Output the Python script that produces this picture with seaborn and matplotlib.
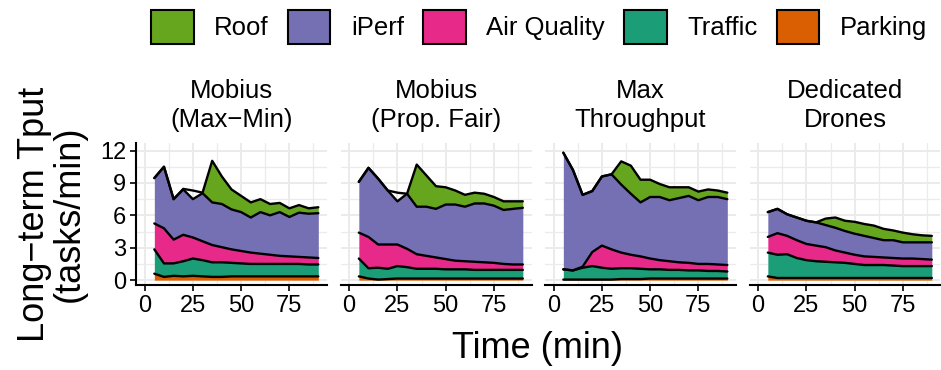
import numpy as np
import matplotlib.pyplot as plt
from matplotlib.patches import Patch
import seaborn as sns

time_min = [5, 10, 15, 20, 25, 30, 35, 40, 45, 50, 55, 60, 65, 70, 75, 80, 85, 90]
panel_titles = ["Mobius\n(Max−Min)", "Mobius\n(Prop. Fair)", "Max\nThroughput", "Dedicated\nDrones"]
stack_order = ["Parking", "Traffic", "Air Quality", "iPerf", "Roof"]
legend_order = ["Roof", "iPerf", "Air Quality", "Traffic", "Parking"]
roof_fill_from = 30

# tasks/min per app, one list per panel
parking = [
    [0.6, 0.3, 0.4, 0.35, 0.4, 0.35, 0.3, 0.3, 0.35, 0.35, 0.35, 0.35, 0.35, 0.35, 0.35, 0.35, 0.35, 0.35],
    [0.35, 0.15, 0.05, 0.1, 0.15, 0.15, 0.15, 0.15, 0.15, 0.15, 0.15, 0.15, 0.15, 0.15, 0.15, 0.15, 0.15, 0.15],
    [0.05, 0.05, 0.05, 0.05, 0.05, 0.05, 0.1, 0.1, 0.1, 0.15, 0.15, 0.15, 0.15, 0.15, 0.15, 0.15, 0.15, 0.15],
    [0.35, 0.2, 0.2, 0.2, 0.2, 0.2, 0.2, 0.2, 0.2, 0.2, 0.2, 0.2, 0.2, 0.2, 0.2, 0.2, 0.2, 0.2],
]
traffic = [
    [2.25, 1.25, 1.15, 1.4, 1.6, 1.5, 1.35, 1.35, 1.25, 1.2, 1.15, 1.15, 1.15, 1.15, 1.15, 1.15, 1.1, 1.1],
    [1.65, 0.95, 1.1, 0.95, 1.15, 1.05, 0.9, 0.9, 0.9, 0.85, 0.85, 0.85, 0.8, 0.8, 0.8, 0.8, 0.8, 0.8],
    [0.95, 0.85, 1.1, 1.25, 1.1, 1.0, 1.0, 1.0, 0.95, 0.85, 0.85, 0.8, 0.8, 0.75, 0.75, 0.7, 0.7, 0.65],
    [2.2, 2.15, 2.2, 1.85, 1.65, 1.55, 1.5, 1.45, 1.4, 1.3, 1.2, 1.2, 1.2, 1.15, 1.1, 1.1, 1.1, 1.1],
]
air_quality = [
    [2.4, 3.25, 2.2, 2.45, 1.95, 1.75, 1.6, 1.4, 1.25, 1.15, 1.05, 0.95, 0.85, 0.75, 0.7, 0.65, 0.65, 0.6],
    [2.4, 2.9, 2.15, 2.25, 2.0, 1.7, 1.35, 1.2, 1.05, 0.95, 0.8, 0.75, 0.75, 0.7, 0.65, 0.55, 0.5, 0.5],
    [0.0, 0.0, 0.1, 1.3, 2.05, 1.8, 1.45, 1.25, 1.15, 1.0, 0.85, 0.8, 0.7, 0.7, 0.6, 0.65, 0.6, 0.6],
    [1.45, 2.0, 1.7, 1.65, 1.5, 1.45, 1.35, 1.1, 0.95, 0.85, 0.8, 0.75, 0.7, 0.7, 0.7, 0.7, 0.65, 0.6],
]
iperf = [
    [4.2, 5.7, 3.75, 4.2, 3.55, 4.45, 3.95, 4.0, 3.7, 3.6, 3.25, 3.85, 3.65, 4.05, 3.65, 4.1, 4.05, 4.15],
    [4.7, 6.4, 6.1, 5.0, 4.0, 5.1, 4.4, 4.55, 4.5, 5.05, 5.2, 5.05, 5.4, 5.45, 5.3, 5.0, 5.15, 5.25],
    [10.8, 9.3, 6.65, 5.65, 6.4, 6.95, 6.3, 5.65, 5.0, 5.7, 5.85, 5.65, 5.95, 6.2, 5.9, 6.2, 6.25, 6.1],
    [2.3, 2.25, 2.0, 2.1, 2.15, 2.15, 2.05, 2.1, 2.0, 1.95, 1.9, 1.75, 1.6, 1.65, 1.5, 1.5, 1.55, 1.6],
]
roof = [
    [0, 0, 0, 0.05, 0.8, 0.05, 3.85, 2.55, 1.85, 1.5, 1.4, 1.2, 1.05, 0.85, 0.8, 0.7, 0.5, 0.55],
    [0, 0, 0, 0, 0.8, 0, 3.9, 2.9, 2.1, 1.6, 1.3, 1.1, 1.0, 0.9, 0.8, 0.8, 0.7, 0.6],
    [0, 0, 0, 0, 0, 0, 2.15, 2.6, 2.1, 1.6, 1.2, 1.2, 1.0, 0.8, 0.8, 0.7, 0.6, 0.6],
    [0, 0, 0, 0, 0, 0, 0.6, 0.95, 0.95, 1.1, 1.1, 1.15, 1.05, 0.9, 0.9, 0.75, 0.65, 0.6],
]

sns.set_theme(style="whitegrid")
plt.rcParams['font.family'] = ['Liberation Sans', 'DejaVu Sans']
plt.rcParams['text.color'] = 'black'

dark2 = sns.color_palette("Dark2")
colors = {"Traffic": dark2[0], "Parking": dark2[1], "iPerf": dark2[2],
          "Air Quality": dark2[3], "Roof": dark2[4]}

W, H = 941, 370
fig = plt.figure(figsize=(W / 100, H / 100), dpi=100)
t = np.array(time_min)

for i, title in enumerate(panel_titles):
    ax = fig.add_axes([(136 + i * 204.5) / W, (H - 285) / H, 191 / W, 142 / H])
    ax.set_axisbelow(True)

    layers = np.array([parking[i], traffic[i], air_quality[i], iperf[i], roof[i]])
    tops = np.cumsum(layers, axis=0)
    bases = np.vstack([np.zeros(len(t)), tops[:-1]])

    for k, name in enumerate(stack_order):
        where = t >= roof_fill_from if name == "Roof" else None
        ax.fill_between(t, bases[k], tops[k], where=where, color=colors[name], lw=0)
    for k in range(len(stack_order)):
        ax.plot(t, tops[k], color='black', lw=1.7, solid_joinstyle='round')

    ax.set_xlim(-4.5, 94.5)
    ax.set_ylim(-0.45, 12.7)
    ax.set_xticks([0, 25, 50, 75])
    ax.set_xticks([12.5, 37.5, 62.5, 87.5], minor=True)
    ax.set_yticks([0, 3, 6, 9, 12])
    ax.set_yticks([1.5, 4.5, 7.5, 10.5], minor=True)
    ax.grid(which='major', color='#EBEBEB', lw=1.4)
    ax.grid(which='minor', color='#EBEBEB', lw=0.9)
    ax.tick_params(which='major', bottom=True, left=(i == 0), labelleft=(i == 0),
                   length=4, width=1.2, color='black', labelsize=17, pad=3,
                   labelcolor='black')
    ax.tick_params(which='minor', length=0)

    for side in ['top', 'right']:
        ax.spines[side].set_visible(False)
    ax.spines['bottom'].set_color('black')
    ax.spines['bottom'].set_linewidth(1.5)
    if i == 0:
        ax.spines['left'].set_color('black')
        ax.spines['left'].set_linewidth(1.5)
    else:
        ax.spines['left'].set_visible(False)

    ax.set_xlabel('')
    ax.set_ylabel('')
    ax.set_title(title, fontsize=18.5, pad=11.5, linespacing=1.27, color='black')

handles = [Patch(facecolor=colors[n], edgecolor='black', lw=1.5, label=n) for n in legend_order]
fig.legend(handles=handles, loc='center', bbox_to_anchor=(539 / W, 1 - 27 / H), ncol=5,
           frameon=False, fontsize=18.5, handlelength=1.65, handleheight=1.6,
           handletextpad=0.8, columnspacing=0.75, borderpad=0)

fig.text(52 / W, 1 - 214 / H, "Long−term Tput\n(tasks/min)", rotation=90,
         ha='center', va='center', fontsize=26, linespacing=1.0, color='black')
fig.text(538 / W, 1 - 348 / H, "Time (min)", ha='center', va='center', fontsize=26,
         color='black')

fig.savefig("out.png", dpi=100)
